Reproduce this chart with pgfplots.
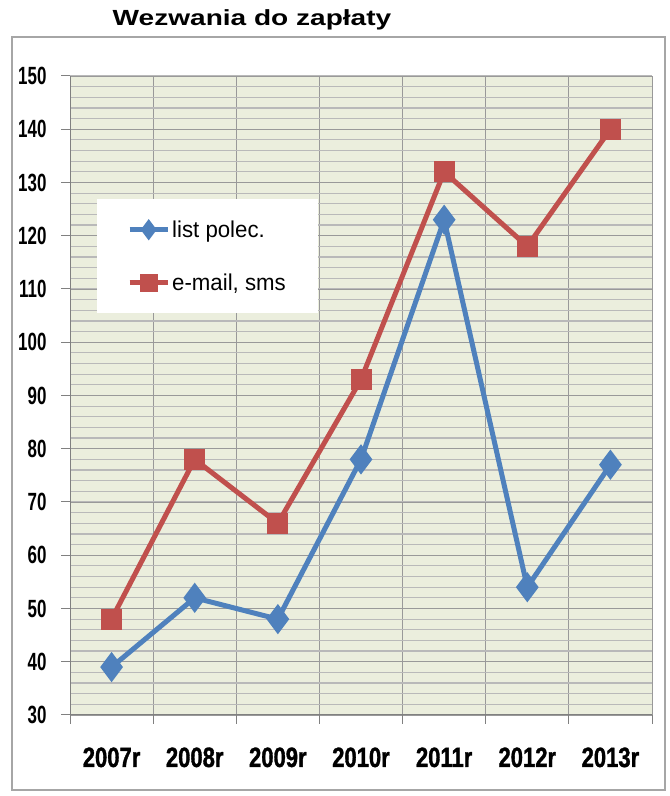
\documentclass[border=0pt]{standalone}
\usepackage{pgfplots}
\pgfplotsset{compat=1.18}
\usepackage{fontspec}
\setmainfont{Liberation Sans}
\newfontfamily\ynum[FakeStretch=0.68]{Liberation Sans Bold}
\newfontfamily\xlab[FakeStretch=0.79,FakeBold=1.2]{Liberation Sans Bold}
\newfontfamily\titlefont[FakeStretch=1.28]{Liberation Sans Bold}
\newfontfamily\legfont[FakeStretch=0.97]{Liberation Sans}
\definecolor{bgc}{HTML}{EBEEDD}
\definecolor{blu}{HTML}{4F81BD}
\definecolor{rd}{HTML}{C0504D}
\begin{document}
\begin{tikzpicture}[x=1bp,y=1bp]
\path (0,0) rectangle (670,796);
\draw[gray!70, line width=1.5bp] (12,6) rectangle (665,759);
\node[font=\titlefont\fontsize{22}{24}\selectfont] at (252,776) {Wezwania do zapłaty};
\begin{axis}[
  at={(70bp,81bp)}, anchor=south west,
  scale only axis, width=582bp, height=639bp,
  xmin=0, xmax=7, ymin=30, ymax=150,
  xtick={0,...,7},
  xticklabels={2007r,2008r,2009r,2010r,2011r,2012r,2013r},
  x tick label as interval,
  ytick={30,40,...,150},
  minor ytick={30,32,...,150},
  grid=both,
  major grid style={gray!80, line width=0.8bp},
  minor grid style={gray!55, line width=1.2bp},
  axis background/.style={fill=bgc},
  axis line style={gray, line width=1bp},
  axis x line*=bottom, axis y line*=left,
  tick align=outside,
  major tick length=9bp, minor tick length=0pt,
  tick style={gray, line width=1bp},
  /pgf/number format/assume math mode=true,
  yticklabel style={font=\ynum\fontsize{25}{26}\selectfont, xshift=-11bp},
  xticklabel style={font=\xlab\fontsize{28}{30}\selectfont, yshift=-20bp},
  legend style={at={(rel axis cs:0.0464,0.8075)}, anchor=north west, draw=none, fill=white,
     font=\legfont\fontsize{23}{25}\selectfont, inner xsep=30bp, inner ysep=19.5bp, row sep=31bp},
  legend cell align=left,
  legend image code/.code={\draw[mark repeat=2,mark phase=2,mark size=6.5bp] plot coordinates {(0bp,0bp)(19bp,0bp)(38bp,0bp)};},
]
\addplot[blu, line width=5bp, mark=diamond*, mark size=11bp, mark options={solid, fill=blu}]
  coordinates {(0.5,39) (1.5,52) (2.5,48) (3.5,78) (4.5,123) (5.5,54) (6.5,77)};
\addlegendentry{list polec.}
\addplot[rd, line width=5bp, mark=square*, mark size=8bp, mark options={solid, fill=rd}]
  coordinates {(0.5,48) (1.5,78) (2.5,66) (3.5,93) (4.5,132) (5.5,118) (6.5,140)};
\addlegendentry{e-mail, sms}
\end{axis}
\end{tikzpicture}
\end{document}
